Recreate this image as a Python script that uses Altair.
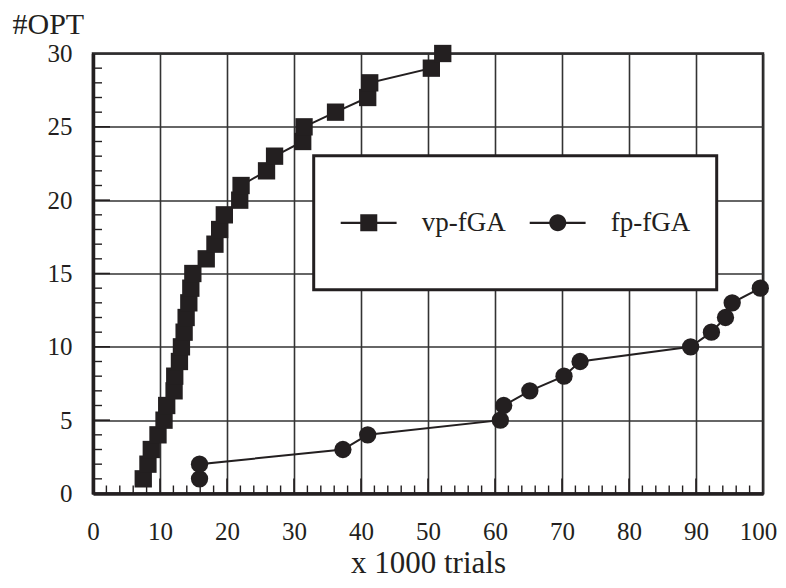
import altair as alt
import pandas as pd

INK = "#231f20"
FONT = "Liberation Serif"

series_names = ["vp-fGA", "fp-fGA"]

vp_x = [7.5, 8.2, 8.7, 9.7, 10.6, 11.0, 12.1, 12.2, 12.9, 13.2,
        13.6, 13.9, 14.3, 14.6, 14.9, 16.9, 18.2, 18.9, 19.6, 21.9,
        22.1, 25.9, 27.1, 31.3, 31.5, 36.2, 41.0, 41.3, 50.5, 52.2]
vp_y = [1, 2, 3, 4, 5, 6, 7, 8, 9, 10,
        11, 12, 13, 14, 15, 16, 17, 18, 19, 20,
        21, 22, 23, 24, 25, 26, 27, 28, 29, 30]

fp_x = [15.9, 15.9, 37.3, 41.0, 60.8, 61.3, 65.2, 70.3, 72.7, 89.2,
        92.3, 94.4, 95.4, 99.6]
fp_y = [1, 2, 3, 4, 5, 6, 7, 8, 9, 10, 11, 12, 13, 14]

x_labels = [0, 10, 20, 30, 40, 50, 60, 70, 80, 90, 100]
y_labels = [0, 5, 10, 15, 20, 25, 30]
x_major_ticks = [10, 20, 30, 40, 50, 60, 70, 80, 90]
x_minor_ticks = [v for v in range(2, 100, 2) if v % 10 != 0]
y_major_ticks = [5, 10, 15, 20, 25]
y_minor_ticks = [v for v in range(1, 30) if v % 5 != 0]

rows = []
for i, (x, y) in enumerate(zip(vp_x, vp_y)):
    rows.append({"series": series_names[0], "x": x, "y": y, "idx": i})
for i, (x, y) in enumerate(zip(fp_x, fp_y)):
    rows.append({"series": series_names[1], "x": x, "y": y, "idx": i})
df = pd.DataFrame(rows)

X = alt.X(
    "x:Q",
    scale=alt.Scale(domain=[0, 100], nice=False, zero=True),
    axis=alt.Axis(
        values=x_labels, title="x 1000 trials", grid=True, ticks=False, tickSize=0,
        labelFlush=False, labelOverlap=False,
        labelOffset={"condition": {"test": "datum.value == 100", "value": -5}, "value": 0},
        labelPadding=26, labelFontSize=25, labelFont=FONT, labelColor=INK,
        titleFont=FONT, titleFontSize=31, titleFontWeight="normal", titleColor=INK,
        titleY=79, titleBaseline="alphabetic",
        domainColor=INK, domainWidth=3.5, gridColor="#333333", gridWidth=1.6,
    ),
)
Y = alt.Y(
    "y:Q",
    scale=alt.Scale(domain=[0, 30], nice=False, zero=True),
    axis=alt.Axis(
        values=y_labels, title="#OPT", grid=True, ticks=False, tickSize=0,
        labelFlush=False, labelOverlap=False,
        labelPadding=21, labelFontSize=25, labelFont=FONT, labelColor=INK,
        titleFont=FONT, titleFontSize=30, titleFontWeight="normal", titleColor=INK,
        titleAngle=0, titleX=-81, titleY=-20.5, titleAlign="left", titleBaseline="alphabetic",
        domainColor=INK, domainWidth=3.5, gridColor="#333333", gridWidth=1.6,
    ),
)

lines = alt.Chart(df).mark_line(color=INK, strokeWidth=2).encode(
    x=X, y=Y, detail="series:N", order="idx:Q"
)

points = alt.Chart(df).mark_point(filled=True, opacity=1, color=INK, size=300).encode(
    x=X, y=Y,
    shape=alt.Shape("series:N",
                    scale=alt.Scale(domain=series_names, range=["square", "circle"]),
                    legend=None),
)

xt_major = alt.Chart(pd.DataFrame({"x": x_major_ticks})).mark_rule(color=INK, strokeWidth=1.6).encode(
    x=X, y=alt.value(440), y2=alt.value(425))
xt_minor = alt.Chart(pd.DataFrame({"x": x_minor_ticks})).mark_rule(color=INK, strokeWidth=1.4).encode(
    x=X, y=alt.value(440), y2=alt.value(432))
yt_major = alt.Chart(pd.DataFrame({"y": y_major_ticks})).mark_rule(color=INK, strokeWidth=1.6).encode(
    y=Y, x=alt.value(0), x2=alt.value(17))
yt_minor = alt.Chart(pd.DataFrame({"y": y_minor_ticks})).mark_rule(color=INK, strokeWidth=1.4).encode(
    y=Y, x=alt.value(0), x2=alt.value(9))

# legend glyphs drawn with fill only: thin bar (the line) + marker, plus extent points
pad_pts = "M0,-0.9L0,-0.9M0,0.9L0,0.9"
bar = "M-1.006,-0.028H0.40V0.028H-1.006Z"
sq_path = bar + "M-0.514,-0.214H-0.086V0.214H-0.514Z" + pad_pts
ci_path = (bar + "M-0.086,0A0.214,0.214,0,1,1,-0.514,0"
           "A0.214,0.214,0,1,1,-0.086,0Z" + pad_pts)

legend_layer = alt.Chart(pd.DataFrame({"series": series_names})).mark_point(
    filled=True, color=INK, opacity=0
).encode(
    shape=alt.Shape(
        "series:N",
        scale=alt.Scale(domain=series_names, range=[sq_path, ci_path]),
        legend=alt.Legend(
            orient="none", legendX=220.7, legendY=102.2, direction="horizontal",
            title=None, padding=26, fillColor="white", strokeColor=INK,
            symbolSize=6320, symbolFillColor=INK, symbolStrokeColor=INK,
            symbolStrokeWidth=2.5, symbolOpacity=1,
            labelFont=FONT, labelFontSize=27, labelColor=INK, labelOffset=0,
            columnPadding=19,
        ),
    )
)

chart = (
    alt.layer(xt_major, xt_minor, yt_major, yt_minor, lines, points, legend_layer)
    .resolve_scale(shape="independent")
    .properties(
        width=670, height=440,
        autosize=alt.AutoSizeParams(type="none"),
        padding={"left": 85, "top": 45.5, "right": 15, "bottom": 86},
        background="white",
    )
    .configure_view(stroke=INK, strokeWidth=2.5)
    .configure_legend(strokeWidth=3)
)

chart.save("out.html", embed_options={"renderer": "svg", "actions": False})
